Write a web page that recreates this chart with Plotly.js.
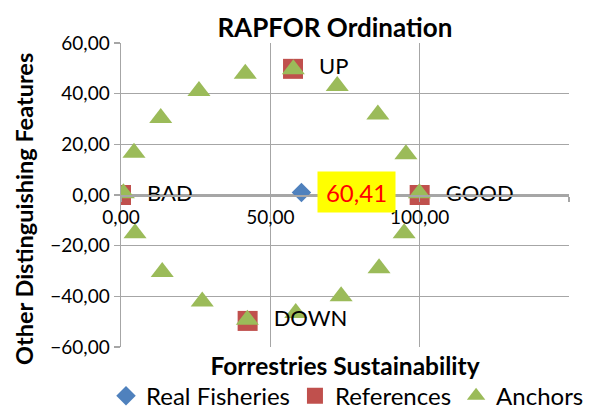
<!DOCTYPE html>
<html>
<head>
<meta charset="utf-8">
<script src="https://cdn.plot.ly/plotly-3.0.1.min.js"></script>
<style>html,body{margin:0;padding:0;background:#fff;}#chart{width:598px;height:410px;}</style>
</head>
<body>
<div id="chart"></div>
<script>
// ---- data ----
var realName = "Real Fisheries";
var realX = [60.41];
var realY = [1.0];

var refName = "References";
var refLabels = ["BAD", "GOOD", "UP", "DOWN"];
var refX = [0, 100, 57.6, 42.4];
var refY = [0, 0, 49.8, -49.7];

var anchorName = "Anchors";
var anchorX = [0.8, 4.35, 13.3, 26.1, 41.6, 57.7, 72.4, 86.0, 95.4, 99.9, 94.8, 86.4, 73.7, 58.5, 42.3, 27.2, 13.8, 4.7];
var anchorY = [0.7, 16.7, 30.4, 41.1, 47.9, 49.6, 43.0, 31.8, 16.1, 0.7, -15.1, -28.9, -40.0, -46.6, -49.2, -42.0, -30.4, -15.1];

var xTicks = [0, 50, 100, 150];
var yTicks = [-60, -40, -20, 0, 20, 40, 60];

var chartTitle = "RAPFOR Ordination";
var xTitle = "Forrestries Sustainability";
var yTitle = "Other Distinguishing Features";

// ---- styling ----
var FONT = "Lato, 'Open Sans', sans-serif";
var GRID = "#a6a6a6";

var traces = [
  {
    type: "scatter", mode: "markers", name: realName,
    x: realX, y: realY,
    marker: {symbol: "diamond", size: 15, color: "#4F81BD"}
  },
  {
    type: "scatter", mode: "markers", name: refName,
    x: refX, y: refY,
    marker: {symbol: "square", size: 20, color: "#C0504D"}
  },
  {
    type: "scatter", mode: "markers", name: anchorName,
    x: anchorX, y: anchorY,
    marker: {symbol: "triangle-up", size: 20, color: "#9BBB59"}
  },
  {
    type: "scatter", mode: "markers+text", showlegend: false, hoverinfo: "skip",
    x: refX, y: refY, text: refLabels, textposition: "middle right",
    marker: {size: 40, opacity: 0},
    textfont: {family: FONT, size: 22, color: "#000"}
  },
  {
    type: "scatter", mode: "markers", showlegend: false, hoverinfo: "skip",
    xaxis: "x2", x: [], y: []
  }
];

var layout = {
  width: 598, height: 410,
  margin: {l: 121, r: 29, t: 43, b: 63, autoexpand: false},
  paper_bgcolor: "#fff", plot_bgcolor: "#fff",
  separators: ", ",
  font: {family: FONT, size: 19, color: "#000"},
  title: {
    text: chartTitle, font: {family: FONT, size: 26, color: "#000", weight: "bold"},
    x: 0.56, xanchor: "center", y: 0.932, yanchor: "middle"
  },
  showlegend: true,
  legend: {
    orientation: "h", x: -0.0335, xanchor: "left", y: -0.162, yanchor: "middle",
    font: {family: FONT, size: 24, color: "#000"}, bgcolor: "rgba(0,0,0,0)"
  },
  xaxis: {
    range: [0, 150], tickvals: xTicks, showticklabels: false,
    showgrid: true, gridcolor: GRID, gridwidth: 1.5, zeroline: false,
    showline: false, ticks: "",
    title: {text: xTitle, font: {family: FONT, size: 24.5, weight: "bold"}, standoff: 10}
  },
  xaxis2: {
    overlaying: "x", anchor: "free", position: 0.5, side: "bottom",
    range: [0, 150], tickvals: xTicks, tickformat: ".2f",
    showgrid: false, zeroline: false, showline: true, linecolor: GRID, linewidth: 1.5,
    ticks: "outside", ticklen: 5, tickcolor: GRID, tickwidth: 1.5,
    tickfont: {family: FONT, size: 19, color: "#000"}
  },
  yaxis: {
    range: [-60, 60], tickvals: yTicks, tickformat: ".2f",
    showgrid: true, gridcolor: GRID, gridwidth: 1.5, zeroline: false,
    showline: true, linecolor: GRID, linewidth: 1.5,
    ticks: "outside", ticklen: 6, tickcolor: GRID, tickwidth: 1.5,
    tickfont: {family: FONT, size: 19, color: "#000"}
  },
  annotations: [
    {
      x: realX[0], y: realY[0], xref: "x", yref: "y",
      text: realX[0].toFixed(2).replace(".", ","),
      showarrow: false, xanchor: "left", yanchor: "middle", xshift: 16,
      font: {family: FONT, size: 24, color: "#FF0000"},
      bgcolor: "#FFFF00", borderpad: 4, width: 69, height: 32
    },
    {
      // y-axis title
      text: "<b>" + yTitle + "</b>", textangle: -90,
      xref: "paper", yref: "paper", x: -0.218, y: 0.455,
      xanchor: "center", yanchor: "middle", showarrow: false,
      font: {family: FONT, size: 23.5, color: "#000"}
    }
  ]
};

Plotly.newPlot("chart", traces, layout, {displayModeBar: false, staticPlot: true});
</script>
</body>
</html>
